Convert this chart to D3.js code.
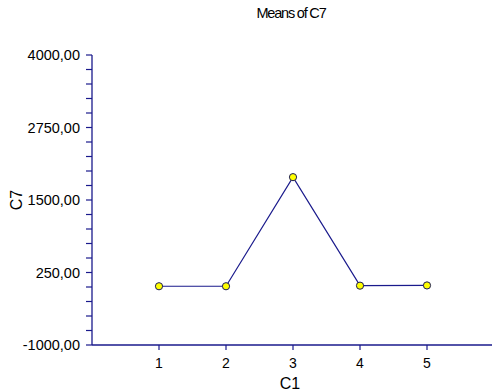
<!DOCTYPE html>
<html>
<head>
<meta charset="utf-8">
<script src="https://cdn.jsdelivr.net/npm/d3@7"></script>
<style>
  body { margin: 0; background: #fff; }
  text { font-family: Arial, "Liberation Sans", sans-serif; fill: #000; }
</style>
</head>
<body>
<svg id="chart" width="492" height="392"></svg>
<script>
// data
const groups = [1, 2, 3, 4, 5];
const means = [13, 13, 1894, 23, 27];
const yTicks = [-1000, 250, 1500, 2750, 4000];

const width = 492, height = 392;
const margin = {top: 55, right: 0, bottom: 47, left: 92};
const navy = "#1a1a8c";

const svg = d3.select("#chart");

const x = d3.scaleLinear()
    .domain([0, 6])
    .range([margin.left, 494]);

const y = d3.scaleLinear()
    .domain([-1000, 4000])
    .range([height - margin.bottom, margin.top]);

// comma decimals, plain hyphen for minus
const fmt = d => d3.format(".2f")(d).replace(".", ",").replace("\u2212", "-");

// y axis with minor ticks
const yMinor = d3.range(-1000, 4001, 250);
const yAxisG = svg.append("g").attr("transform", `translate(${margin.left},0)`);
yAxisG.append("line")
    .attr("x1", 0).attr("x2", 0)
    .attr("y1", y(4000)).attr("y2", y(-1000))
    .attr("stroke", navy).attr("stroke-width", 1.3);
yAxisG.selectAll("line.tick")
    .data(yMinor)
    .enter()
    .append("line")
        .attr("class", "tick")
        .attr("x1", -6).attr("x2", 0)
        .attr("y1", d => y(d)).attr("y2", d => y(d))
        .attr("stroke", navy).attr("stroke-width", 1.2);
yAxisG.selectAll("text")
    .data(yTicks)
    .enter()
    .append("text")
        .attr("x", -12)
        .attr("y", d => y(d))
        .attr("dy", "0.35em")
        .attr("text-anchor", "end")
        .style("font-size", "14.5px")
        .text(fmt);

// x axis
const xAxisG = svg.append("g").attr("transform", `translate(0,${y(-1000)})`);
xAxisG.append("line")
    .attr("x1", margin.left).attr("x2", width)
    .attr("y1", 0).attr("y2", 0)
    .attr("stroke", navy).attr("stroke-width", 1.3);
xAxisG.selectAll("line.tick")
    .data(groups)
    .enter()
    .append("line")
        .attr("class", "tick")
        .attr("x1", d => x(d)).attr("x2", d => x(d))
        .attr("y1", 0).attr("y2", 5)
        .attr("stroke", navy).attr("stroke-width", 1.2);
xAxisG.selectAll("text")
    .data(groups)
    .enter()
    .append("text")
        .attr("x", d => x(d))
        .attr("y", 23)
        .attr("text-anchor", "middle")
        .style("font-size", "14px")
        .text(d => d);

// axis titles
svg.append("text")
    .attr("x", (margin.left + width) / 2 - 2)
    .attr("y", 389)
    .attr("text-anchor", "middle")
    .style("font-size", "16px")
    .text("C1");

svg.append("text")
    .attr("transform", `translate(22,${(y(4000) + y(-1000)) / 2}) rotate(-90)`)
    .attr("text-anchor", "middle")
    .style("font-size", "16px")
    .text("C7");

svg.append("text")
    .attr("x", 291)
    .attr("y", 18)
    .attr("text-anchor", "middle")
    .style("font-size", "14.5px")
    .style("letter-spacing", "-1.2px")
    .text("Means of C7");

// line + markers
const pts = groups.map((g, i) => ({g: g, v: means[i]}));
svg.append("path")
    .datum(pts)
    .attr("fill", "none")
    .attr("stroke", navy)
    .attr("stroke-width", 1.2)
    .attr("d", d3.line().x(d => x(d.g)).y(d => y(d.v)));

svg.selectAll("circle")
    .data(pts)
    .enter()
    .append("circle")
        .attr("cx", d => x(d.g))
        .attr("cy", d => y(d.v))
        .attr("r", 3.6)
        .attr("fill", "#ffff00")
        .attr("stroke", "#1a1a5a")
        .attr("stroke-width", 1);
</script>
</body>
</html>
